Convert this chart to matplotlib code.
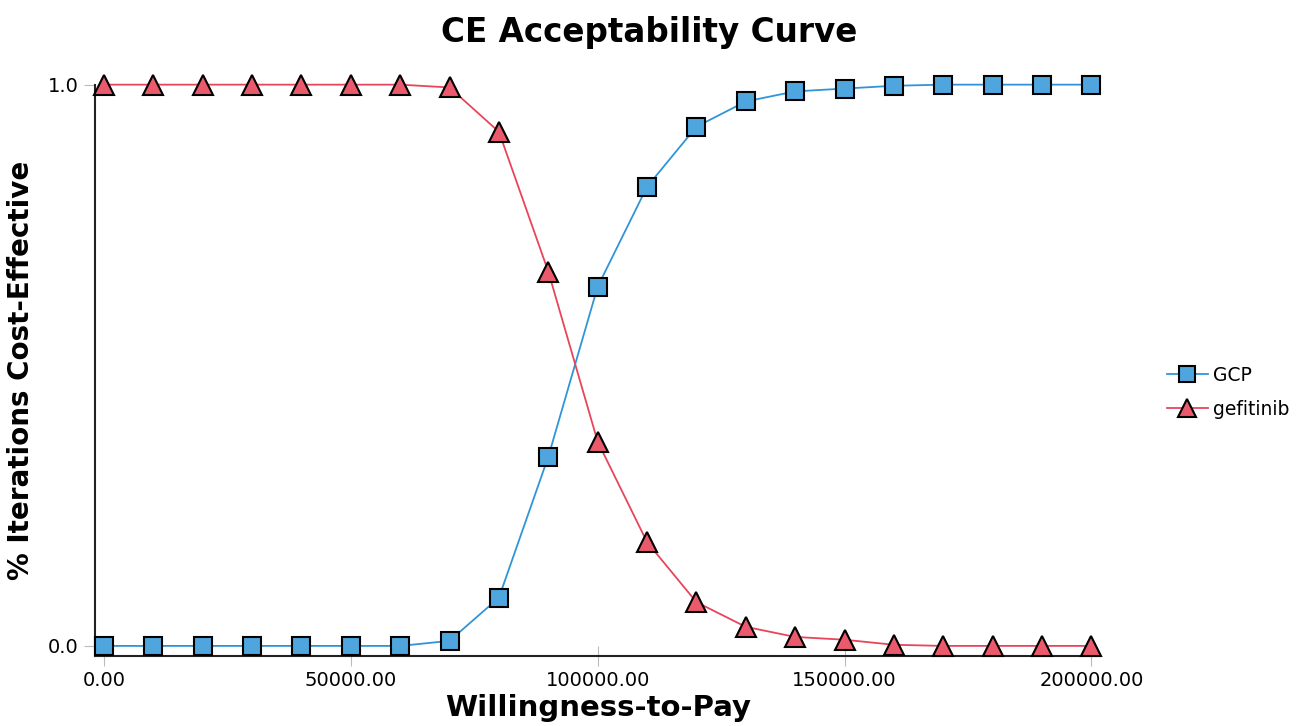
import numpy as np
import matplotlib.pyplot as plt

wtp = [0, 10000, 20000, 30000, 40000, 50000, 60000, 70000, 80000, 90000, 100000,
       110000, 120000, 130000, 140000, 150000, 160000, 170000, 180000, 190000, 200000]
gcp = [0, 0, 0, 0, 0, 0, 0, 0.009, 0.086, 0.337, 0.64,
       0.818, 0.925, 0.97, 0.988, 0.993, 0.998, 1.0, 1.0, 1.0, 1.0]
gefitinib = [1, 1, 1, 1, 1, 1, 1, 0.995, 0.916, 0.667, 0.364,
             0.185, 0.078, 0.034, 0.016, 0.011, 0.002, 0, 0, 0, 0]
xticks = [0, 50000, 100000, 150000, 200000]

fig = plt.figure(figsize=(12.99, 7.26), dpi=100)
ax = fig.add_axes([0.0731, 0.0964, 0.774, 0.787])

ax.plot(wtp, gcp, color='#2f95d8', lw=1.3, marker='s', ms=13,
        mfc='#4fa6de', mec='black', mew=1.5, label='GCP', clip_on=False, zorder=3)
ax.plot(wtp, gefitinib, color='#e8455b', lw=1.3, marker='^', ms=14,
        mfc='#ea5a6c', mec='black', mew=1.5, label='gefitinib', clip_on=False, zorder=3)

ax.set_xlim(-1824, 201824)
ax.set_ylim(-0.018, 1.0)
ax.set_xticks(xticks)
ax.set_xticklabels(['%.2f' % v for v in xticks])
ax.set_yticks([0.0, 1.0])
ax.set_yticklabels(['0.0', '1.0'])

for s in ['top', 'right']:
    ax.spines[s].set_visible(False)
for s in ['left', 'bottom']:
    ax.spines[s].set_linewidth(1.5)
    ax.spines[s].set_color('#222222')

ax.tick_params(axis='x', direction='inout', length=14, color='#bbbbbb', labelsize=14, pad=4)
ax.tick_params(axis='y', direction='out', length=8, color='#bbbbbb', labelsize=14, pad=4)

fig.suptitle('CE Acceptability Curve', x=0.5, y=0.978, fontsize=23.5, fontweight='bold')
ax.set_xlabel('Willingness-to-Pay', fontsize=21, fontweight='bold', labelpad=3)
ax.set_ylabel('% Iterations Cost-Effective', fontsize=20, fontweight='bold', labelpad=9)

ax.legend(loc='center left', bbox_to_anchor=(1.066, 0.462), frameon=False,
          fontsize=13.5, handlelength=2.2, handletextpad=0.25, markerscale=0.9,
          labelspacing=0.8, borderaxespad=0, borderpad=0)

fig.savefig('out.png', dpi=100)
